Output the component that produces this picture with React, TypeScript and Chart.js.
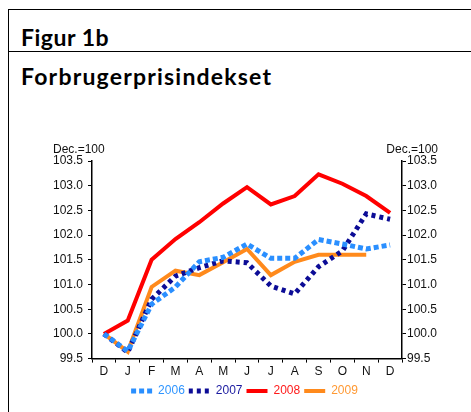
import React, { useEffect, useRef } from "react";
import { Chart, registerables } from "chart.js";

Chart.register(...registerables);

const months = ["D", "J", "F", "M", "A", "M", "J", "J", "A", "S", "O", "N", "D"];
const s2006 = [100.0, 99.65, 100.6, 100.95, 101.46, 101.55, 101.82, 101.53, 101.53, 101.91, 101.82, 101.72, 101.8];
const s2007 = [100.0, 99.63, 100.7, 101.17, 101.34, 101.48, 101.44, 100.97, 100.81, 101.36, 101.68, 102.43, 102.32];
const s2008 = [100.0, 100.27, 101.5, 101.92, 102.26, 102.64, 102.97, 102.62, 102.79, 103.23, 103.04, 102.79, 102.45];
const s2009 = [100.0, 99.64, 100.95, 101.28, 101.19, 101.45, 101.72, 101.19, 101.46, 101.6, 101.6, 101.6, null];
const yTicks = [99.5, 100.0, 100.5, 101.0, 101.5, 102.0, 102.5, 103.0, 103.5];
const seriesNames = ["2006", "2007", "2008", "2009"];
const axisNote = "Dec.=100";

const lineColors = ["#2a8fff", "#0c0c96", "#ff0000", "#ff8a1c"];
const textColors = ["#2f95ff", "#1a1aa0", "#ff1a1a", "#ff9933"];

export default function App() {
  const ref = useRef<HTMLCanvasElement | null>(null);

  useEffect(() => {
    if (!ref.current) return;
    const font = { family: "'Liberation Sans', Arial, sans-serif", size: 12 };
    const notePlugin = {
      id: "notes",
      afterDraw(chart: any) {
        const { ctx, chartArea } = chart;
        ctx.save();
        ctx.font = "12px 'Liberation Sans', Arial, sans-serif";
        ctx.fillStyle = "#111";
        ctx.textBaseline = "alphabetic";
        ctx.textAlign = "left";
        ctx.fillText(axisNote, chartArea.left - 39, chartArea.top - 8);
        ctx.textAlign = "right";
        ctx.fillText(axisNote, chartArea.right + 36, chartArea.top - 8);
        ctx.restore();
      },
    };
    const datasets = [s2006, s2007, s2008, s2009].map((d, i) => ({
      label: seriesNames[i],
      data: d,
      borderColor: lineColors[i],
      backgroundColor: lineColors[i],
      borderWidth: i < 2 ? 5 : 4,
      borderDash: i === 0 ? [5, 3] : i === 1 ? [4, 4] : [],
      pointRadius: 0,
      tension: 0,
      fill: false,
      yAxisID: "y",
    }));
    const chart = new Chart(ref.current, {
      type: "line",
      data: { labels: months, datasets },
      plugins: [notePlugin],
      options: {
        animation: false,
        responsive: false,
        layout: { padding: { top: 161, bottom: 5, left: 18, right: 0 } },
        plugins: {
          title: { display: false },
          tooltip: { enabled: false },
          legend: {
            position: "bottom",
            labels: {
              font,
              usePointStyle: true,
              pointStyleWidth: 21,
              boxHeight: 12,
              padding: 4,
              generateLabels: (c: any) =>
                c.data.datasets.map((ds: any, i: number) => ({
                  text: ds.label,
                  fillStyle: ds.borderColor,
                  strokeStyle: ds.borderColor,
                  lineWidth: ds.borderWidth,
                  lineDash: ds.borderDash,
                  pointStyle: "line",
                  fontColor: textColors[i],
                  hidden: false,
                  datasetIndex: i,
                })),
            },
          },
        },
        scales: {
          x: {
            type: "category",
            offset: true,
            grid: { display: true, offset: true, drawOnChartArea: false, tickLength: 4, color: "#000", lineWidth: 1 },
            border: { display: true, color: "#000", width: 1.5 },
            ticks: { font, color: "#111", padding: 2, maxRotation: 0, autoSkip: false },
          },
          y: {
            position: "left",
            min: 99.5,
            max: 103.5,
            afterBuildTicks: (s: any) => { s.ticks = yTicks.map((v) => ({ value: v })); },
            afterFit: (s: any) => { s.width = 74; },
            grid: { display: true, drawOnChartArea: false, tickLength: 4, color: "#000", lineWidth: 1 },
            border: { display: true, color: "#000", width: 1.5 },
            ticks: { font, color: "#111", padding: 5, callback: (v: any) => Number(v).toFixed(1) },
          },
          y2: {
            position: "right",
            min: 99.5,
            max: 103.5,
            afterBuildTicks: (s: any) => { s.ticks = yTicks.map((v) => ({ value: v })); },
            afterFit: (s: any) => { s.width = 69; },
            grid: { display: true, drawOnChartArea: false, tickLength: 4, color: "#000", lineWidth: 1 },
            border: { display: true, color: "#000", width: 1.5 },
            ticks: { font, color: "#111", padding: 1, callback: (v: any) => Number(v).toFixed(1) },
          },
        },
      },
    });
    return () => chart.destroy();
  }, []);

  const titleFont = "Lato, 'Open Sans', sans-serif";
  return (
    <div style={{ position: "absolute", left: 0, top: 0, width: 471, height: 412, background: "#fff", overflow: "hidden" }}>
      <div style={{ position: "absolute", left: 8, top: 9, width: 463, height: 1, background: "#000" }} />
      <div style={{ position: "absolute", left: 8, top: 9, width: 1, height: 403, background: "#000" }} />
      <div style={{ position: "absolute", left: 8, top: 51, width: 463, height: 1, background: "#000" }} />
      <div style={{ position: "absolute", left: 21, top: 23, fontFamily: titleFont, fontWeight: 700, fontSize: 23, lineHeight: "28px", letterSpacing: "0.5px", color: "#000", whiteSpace: "nowrap" }}>
        Figur 1b
      </div>
      <div style={{ position: "absolute", left: 21, top: 62, fontFamily: titleFont, fontWeight: 700, fontSize: 23, lineHeight: "28px", letterSpacing: "1.2px", color: "#000", whiteSpace: "nowrap" }}>
        Forbrugerprisindekset
      </div>
      <canvas ref={ref} width={471} height={412} style={{ position: "absolute", left: 0, top: 0 }} />
    </div>
  );
}
